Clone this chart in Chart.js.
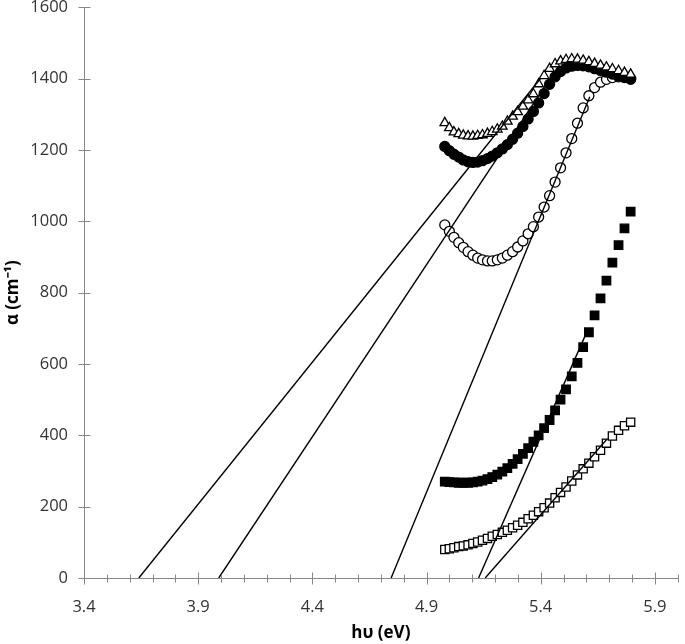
<!DOCTYPE html>
<html lang="en">
<head>
    <meta charset="UTF-8">
    <title>Absorption coefficient vs photon energy</title>
    <script src="https://cdn.jsdelivr.net/npm/chart.js"></script>
    <style>
        html, body { margin: 0; padding: 0; background: #fff; }
        #wrap { width: 685px; height: 644px; position: relative; }
    </style>
</head>
<body>
    <div id="wrap"><canvas id="alphaChart"></canvas></div>
    <script>
        // photon energy (eV) of every measured point
        const energy = [4.980, 5.000, 5.020, 5.041, 5.061, 5.082, 5.103, 5.124, 5.145, 5.167,
                        5.188, 5.210, 5.232, 5.254, 5.277, 5.299, 5.322, 5.345, 5.368, 5.391,
                        5.415, 5.439, 5.463, 5.487, 5.511, 5.536, 5.561, 5.586, 5.611, 5.636,
                        5.662, 5.688, 5.714, 5.741, 5.767, 5.794];

        // alpha (cm-1) for each sample
        const openTriangle = [1276, 1262, 1250, 1245, 1241, 1239, 1238, 1240, 1242, 1246,
                              1251, 1258, 1266, 1280, 1294, 1307, 1322, 1340, 1357, 1385,
                              1408, 1428, 1441, 1449, 1453, 1455, 1454, 1451, 1447, 1442,
                              1437, 1432, 1427, 1422, 1417, 1412];
        const filledCircle = [1210, 1198, 1188, 1180, 1172, 1167, 1165, 1166, 1170, 1176,
                              1183, 1192, 1203, 1215, 1230, 1247, 1266, 1287, 1308, 1332,
                              1358, 1384, 1405, 1420, 1430, 1435, 1437, 1436, 1433, 1428,
                              1423, 1418, 1413, 1408, 1403, 1398];
        const openCircle = [990, 972, 955, 940, 927, 915, 905, 897, 892, 889,
                            889, 892, 897, 905, 915, 928, 945, 965, 985, 1012,
                            1040, 1072, 1110, 1150, 1192, 1232, 1275, 1318, 1352, 1375,
                            1390, 1398, 1403, 1405, 1404, 1400];
        const filledSquare = [270, 269, 268, 267, 267, 267, 268, 270, 273, 277,
                              283, 290, 298, 308, 320, 333, 348, 364, 382, 400,
                              420, 443, 470, 500, 529, 565, 603, 647, 689, 736,
                              784, 834, 884, 933, 980, 1027];
        const openSquare = [80, 82, 85, 88, 90, 93, 97, 101, 106, 111,
                            117, 122, 128, 134, 141, 148, 156, 166, 176, 186,
                            197, 210, 225, 240, 255, 272, 289, 306, 322, 340,
                            358, 378, 398, 414, 427, 437];

        // straight-line extrapolations to the energy axis: [start, end] as [eV, alpha]
        const fitLines = [
            [[3.640, 0], [5.40, 1401]],
            [[3.990, 0], [5.45, 1409]],
            [[4.745, 0], [5.615, 1349]],
            [[5.128, 0], [5.602, 690]],
            [[5.157, 0], [5.69, 389]]
        ];

        const xTickStep = 0.1;
        const yTickStep = 200;

        function isMajorX(v) {
            return Math.round((v - 3.4) * 10) % 5 === 0;
        }

        function toPoints(ys) {
            return energy.map((e, i) => ({ x: e, y: ys[i] }));
        }

        // Excel style tick marks that cross the axis line
        const crossTicks = {
            id: 'crossTicks',
            afterDraw(chart) {
                const { ctx, scales: { x, y } } = chart;
                const y0 = Math.round(y.getPixelForValue(0)) + 0.5;
                const x0 = Math.round(x.getPixelForValue(3.4)) + 0.5;
                ctx.save();
                ctx.strokeStyle = '#878787';
                ctx.lineWidth = 1;
                ctx.beginPath();
                x.ticks.forEach(t => {
                    const px = Math.round(x.getPixelForValue(t.value)) + 0.5;
                    const len = isMajorX(t.value) ? 6 : 4;
                    ctx.moveTo(px, y0 - len);
                    ctx.lineTo(px, y0 + len);
                });
                y.ticks.forEach(t => {
                    const py = Math.round(y.getPixelForValue(t.value)) + 0.5;
                    ctx.moveTo(x0 - 6, py);
                    ctx.lineTo(x0 + 6, py);
                });
                ctx.stroke();
                ctx.restore();
            }
        };

        const markerSets = [
            { data: openTriangle, style: 'triangle', fill: '#ffffff', r: 5.5, order: 1 },
            { data: filledCircle, style: 'circle', fill: '#000000', r: 5, order: 2 },
            { data: openCircle, style: 'circle', fill: '#ffffff', r: 5, order: 3 },
            { data: filledSquare, style: 'rect', fill: '#000000', r: 6, order: 4 },
            { data: openSquare, style: 'rect', fill: '#ffffff', r: 5.8, order: 5 }
        ];

        const datasets = fitLines.map(seg => ({
            data: seg.map(p => ({ x: p[0], y: p[1] })),
            showLine: true,
            borderColor: '#000000',
            borderWidth: 1.4,
            pointRadius: 0,
            order: 0
        }));

        markerSets.forEach(m => {
            datasets.push({
                data: toPoints(m.data),
                showLine: false,
                pointStyle: m.style,
                pointRadius: m.r,
                pointBackgroundColor: m.fill,
                pointBorderColor: '#000000',
                pointBorderWidth: 1.3,
                order: m.order
            });
        });

        const tickFont = { family: 'Open Sans', size: 16.5 };
        const titleFont = { family: 'Open Sans', size: 17, weight: 'bold' };

        new Chart(document.getElementById('alphaChart'), {
            type: 'scatter',
            data: { datasets: datasets },
            options: {
                responsive: true,
                maintainAspectRatio: false,
                animation: false,
                layout: { padding: { top: 6, right: 0, left: 0, bottom: 0 } },
                plugins: {
                    legend: { display: false },
                    tooltip: { enabled: false }
                },
                scales: {
                    x: {
                        type: 'linear',
                        min: 3.4,
                        max: 6.0,
                        grid: { display: false, drawTicks: false, tickLength: 0 },
                        border: { display: true, color: '#878787', width: 1 },
                        ticks: {
                            stepSize: xTickStep,
                            autoSkip: false,
                            maxRotation: 0,
                            padding: 19,
                            color: '#333333',
                            font: tickFont,
                            callback: v => isMajorX(v) ? v.toFixed(1) : ''
                        },
                        title: {
                            display: true,
                            text: 'hυ (eV)',
                            color: '#000000',
                            font: titleFont,
                            padding: { top: 0, bottom: 1 }
                        },
                        afterFit: s => {
                            s.height = 66;
                            s.paddingLeft = 0;
                            s.paddingRight = 0;
                        }
                    },
                    y: {
                        min: 0,
                        max: 1600,
                        grid: { display: false, drawTicks: false, tickLength: 0 },
                        border: { display: true, color: '#878787', width: 1 },
                        ticks: {
                            stepSize: yTickStep,
                            padding: 16,
                            color: '#333333',
                            font: tickFont,
                            callback: v => String(v)
                        },
                        title: {
                            display: true,
                            text: 'α (cm⁻¹)',
                            color: '#000000',
                            font: titleFont,
                            padding: { top: 3, bottom: 0 }
                        },
                        afterFit: s => {
                            s.width = 84;
                            s.paddingTop = 0;
                            s.paddingBottom = 0;
                        }
                    }
                }
            },
            plugins: [crossTicks]
        });
    </script>
</body>
</html>
